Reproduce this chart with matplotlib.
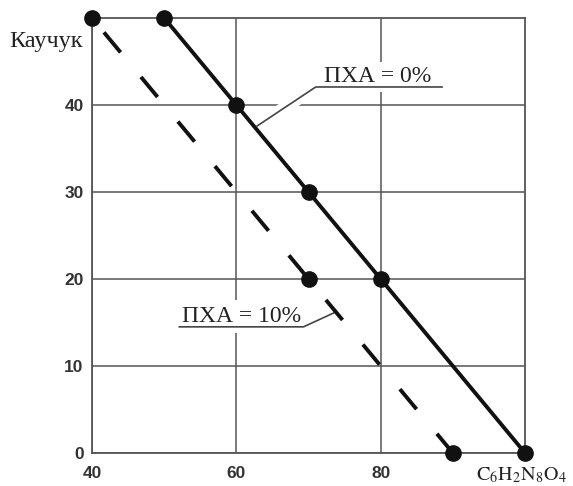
import matplotlib
matplotlib.use("Agg")
import matplotlib.pyplot as plt

plt.rcParams['mathtext.fontset'] = 'stix'

# линия ПХА = 0%
x0 = [50, 60, 70, 80, 100]
y0 = [50, 40, 30, 20, 0]
# линия ПХА = 10% (пунктир)
x10 = [40, 70, 90]
y10 = [50, 20, 0]

xticks = [40, 60, 80]
yticks = [0, 10, 20, 30, 40]

fig = plt.figure(figsize=(5.73, 4.86), dpi=100)
ax = fig.add_axes([0.1606, 0.0679, 0.7557, 0.8951])
ax.set_xlim(40, 100)
ax.set_ylim(0, 50)

gc = '#555555'
ax.set_xticks(xticks)
ax.set_yticks(yticks)
ax.grid(True, color=gc, lw=1.1, zorder=0)
ax.set_axisbelow(True)
for s in ax.spines.values():
    s.set_color(gc)
    s.set_linewidth(1.3)
ax.tick_params(length=0, labelsize=12.5, labelcolor='#333333')
ax.tick_params(axis='x', pad=9)
ax.tick_params(axis='y', pad=6)
for lab in ax.get_xticklabels() + ax.get_yticklabels():
    lab.set_fontweight('bold')
    lab.set_fontfamily('Liberation Sans')

# выноски
ax.plot([62.9, 71.0], [37.6, 42.07], color='white', lw=9, zorder=2, solid_capstyle='butt')
ax.plot([62.9, 71.0, 88.5], [37.6, 42.07, 42.07], color='#444444', lw=1.2, zorder=4)
ax.plot([52.1, 69.3, 73.5], [14.5, 14.5, 16.1], color='#444444', lw=1.2, zorder=4)

ax.text(79.6, 42.6, 'ПХА = 0%', ha='center', va='baseline', fontsize=17,
        family='Liberation Serif', color='#222222', zorder=3,
        bbox=dict(facecolor='white', edgecolor='none', pad=3))
ax.text(60.7, 15.06, 'ПХА = 10%', ha='center', va='baseline', fontsize=17,
        family='Liberation Serif', color='#222222', zorder=3,
        bbox=dict(facecolor='white', edgecolor='none', pad=4))

ax.plot(x0, y0, color='#111111', lw=2.8, marker='o', markersize=11,
        clip_on=False, zorder=5)
ax.plot(x10, y10, color='#111111', lw=2.8, linestyle=(10.1, (6.7, 8.2)),
        clip_on=False, zorder=5)
ax.plot(x10, y10, color='#111111', lw=0, marker='o', markersize=11,
        clip_on=False, zorder=6)

fig.text(83 / 573, 1 - 47 / 486, 'Каучук', ha='right', va='baseline',
         fontsize=17.5, family='Liberation Serif', color='#222222')
fig.text(476 / 573, 1 - 480 / 486, r'$\mathrm{C_6H_2N_8O_4}$', ha='left', va='baseline',
         fontsize=14.5, color='#222222')

fig.savefig('out.png', dpi=100)
